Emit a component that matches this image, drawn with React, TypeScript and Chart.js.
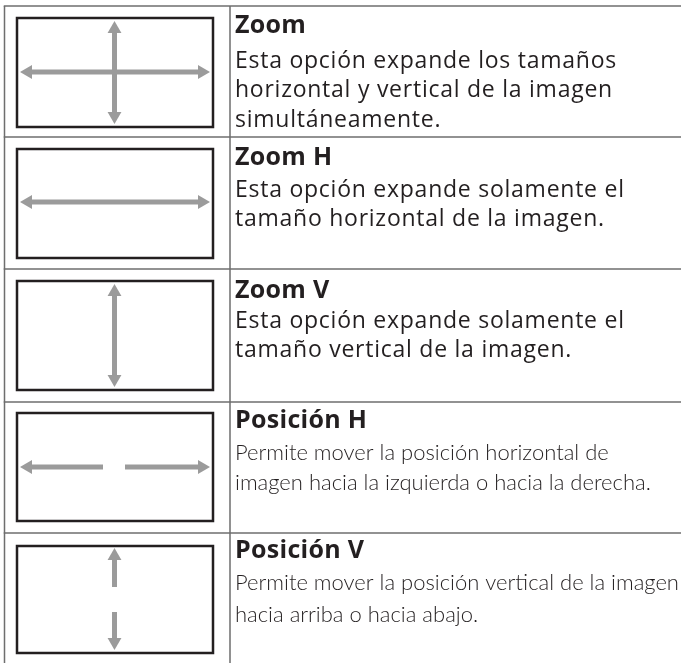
import React, { useEffect, useRef } from "react";
import { Chart, registerables } from "chart.js";

Chart.register(...registerables);

// ---- content ----
const titles = ["Zoom", "Zoom H", "Zoom V", "Posición H", "Posición V"];
const descriptions = [
  ["Esta opción expande los tamaños", "horizontal y vertical de la imagen", "simultáneamente."],
  ["Esta opción expande solamente el", "tamaño horizontal de la imagen."],
  ["Esta opción expande solamente el", "tamaño vertical de la imagen."],
  ["Permite mover la posición horizontal de", "imagen hacia la izquierda o hacia la derecha."],
  ["Permite mover la posición vertical de la imagen", "hacia arriba o hacia abajo."],
];
// which text style each row uses (0 = wide sans, 1 = light sans)
const rowStyle = [0, 0, 0, 1, 1];

// ---- table grid (data units) ----
const rowEdges = [6, 137, 269, 402, 533];
const colEdges = [4.5, 230];
const tableRight = 681;
const tableBottom = 663;

// ---- icon boxes ----
const boxLeft = 17;
const boxRight = 213;
const boxTops = [18, 149, 281, 413, 546];
const boxBottoms = [127, 258, 390, 521, 653];

// ---- arrows: from -> to, with heads ----
const arrowFrom = [
  [20, 72], [114.5, 21],
  [20, 202],
  [114.5, 284],
  [103, 467], [125, 467],
  [114.5, 587], [114.5, 612],
];
const arrowTo = [
  [210, 72], [114.5, 124],
  [210, 202],
  [114.5, 387],
  [20, 467], [210, 467],
  [114.5, 548], [114.5, 650],
];
const arrowHeadFrom = [true, true, true, true, false, false, false, false];
const arrowHeadTo = [true, true, true, true, true, true, true, true];

// ---- text baselines ----
const titleBaselines = [33, 165, 298, 428, 558];
const descBaselines = [68, 197, 328, 460, 590];
const descLineGaps = [29.3, 29.3, 29, 30, 31.5];
const textLeft = 235;

const GRID_COLOR = "#6e6e6e";
const BOX_COLOR = "#231f20";
const ARROW_COLOR = "#9b9b9b";
const TEXT_COLOR = "#231f20";

const HEAD_R = 8;

function buildDatasets() {
  const ds: any[] = [];
  const line = (pts: number[][], color: string, width: number) => ({
    type: "scatter",
    data: pts.map(([x, y]) => ({ x, y })),
    showLine: true,
    borderColor: color,
    borderWidth: width,
    pointRadius: 0,
    pointHoverRadius: 0,
    borderCapStyle: "butt",
    borderJoinStyle: "miter",
    fill: false,
    tension: 0,
  });
  // grid horizontal
  rowEdges.forEach((y) => ds.push(line([[colEdges[0] - 0.75, y], [tableRight, y]], GRID_COLOR, 1.5)));
  // grid vertical
  colEdges.forEach((x) => ds.push(line([[x, rowEdges[0]], [x, tableBottom]], GRID_COLOR, 1.5)));
  // boxes
  boxTops.forEach((t, i) => {
    const b = boxBottoms[i];
    ds.push(
      line(
        [[boxLeft, t], [boxRight, t], [boxRight, b], [boxLeft, b], [boxLeft, t], [boxRight, t]],
        BOX_COLOR,
        2.5
      )
    );
  });
  // arrows
  const headPts: { x: number; y: number }[] = [];
  const headRot: number[] = [];
  arrowFrom.forEach((f, i) => {
    const t = arrowTo[i];
    const dx = t[0] - f[0];
    const dy = t[1] - f[1];
    const len = Math.hypot(dx, dy);
    const ux = dx / len;
    const uy = dy / len;
    const inset = HEAD_R * 1.4;
    const s0 = arrowHeadFrom[i] ? [f[0] + ux * inset, f[1] + uy * inset] : f;
    const s1 = arrowHeadTo[i] ? [t[0] - ux * inset, t[1] - uy * inset] : t;
    ds.push(line([s0, s1], ARROW_COLOR, 5));
    if (arrowHeadTo[i]) {
      headPts.push({ x: t[0] - ux * HEAD_R, y: t[1] - uy * HEAD_R });
      headRot.push((Math.atan2(ux, -uy) * 180) / Math.PI);
    }
    if (arrowHeadFrom[i]) {
      headPts.push({ x: f[0] + ux * HEAD_R, y: f[1] + uy * HEAD_R });
      headRot.push((Math.atan2(-ux, uy) * 180) / Math.PI);
    }
  });
  ds.push({
    type: "scatter",
    data: headPts,
    showLine: false,
    pointStyle: "triangle",
    pointRadius: HEAD_R,
    pointHoverRadius: HEAD_R,
    pointRotation: headRot,
    pointBackgroundColor: ARROW_COLOR,
    pointBorderWidth: 0,
    pointBorderColor: ARROW_COLOR,
  });
  return ds;
}

const textPlugin = {
  id: "tableText",
  afterDatasetsDraw(chart: any) {
    const { ctx, scales } = chart;
    const xs = scales.x;
    const ys = scales.y;
    ctx.save();
    ctx.fillStyle = TEXT_COLOR;
    ctx.textBaseline = "alphabetic";
    ctx.textAlign = "left";
    const px = xs.getPixelForValue(textLeft);
    titles.forEach((title, i) => {
      ctx.font = "bold 25px 'Open Sans'";
      (ctx as any).letterSpacing = "0.3px";
      ctx.fillText(title, px, ys.getPixelForValue(titleBaselines[i]));
      if (rowStyle[i] === 0) {
        ctx.font = "23px 'Open Sans'";
        (ctx as any).letterSpacing = "0.75px";
      } else {
        ctx.font = "300 22px Lato";
        (ctx as any).letterSpacing = "0px";
      }
      descriptions[i].forEach((ln, j) => {
        ctx.fillText(ln, px, ys.getPixelForValue(descBaselines[i] + j * descLineGaps[i]));
      });
    });
    ctx.restore();
  },
};

export default function App() {
  const ref = useRef<HTMLCanvasElement | null>(null);
  useEffect(() => {
    if (!ref.current) return;
    const chart = new Chart(ref.current, {
      type: "scatter",
      data: { datasets: buildDatasets() },
      options: {
        animation: false,
        responsive: false,
        events: [],
        layout: { padding: 0, autoPadding: false },
        plugins: { legend: { display: false }, tooltip: { enabled: false }, title: { display: false } },
        scales: {
          x: { type: "linear", min: 0, max: 681, display: false },
          y: { type: "linear", min: 0, max: 663, reverse: true, display: false },
        },
      },
      plugins: [textPlugin],
    } as any);
    return () => chart.destroy();
  }, []);
  return (
    <div style={{ position: "absolute", left: 0, top: 0, width: 681, height: 663, background: "#fff" }}>
      <canvas ref={ref} width={681} height={663} style={{ display: "block" }} />
    </div>
  );
}
